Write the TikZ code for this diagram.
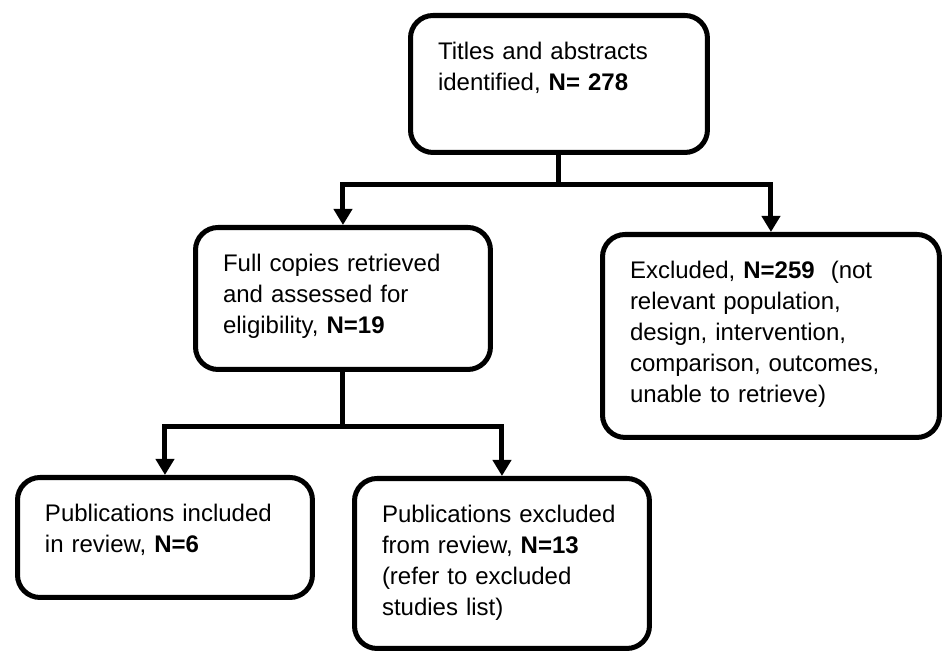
\documentclass[tikz,border=0pt]{standalone}
\usepackage{fontspec}
\setmainfont{Liberation Sans}
\usetikzlibrary{arrows.meta}
\tikzset{
  every picture/.style={line width=2.85pt},
  box/.style={draw, rounded corners=0.45cm, anchor=north west, align=left, inner xsep=0.55cm, inner ysep=0pt,
    text height=0.88cm, font=\fontsize{13.66pt}{17.64pt}\selectfont},
  arrow/.style={-{Triangle[length=0.32cm, width=0.36cm]}},
}

\begin{document}
\begin{tikzpicture}[x=0.02cm, y=-0.02cm]
  \useasboundingbox (0,0) rectangle (944,651);
  \node[box, text width=4.84cm, text depth=1.86cm] (T) at (408,13) {Titles and abstracts\\identified, \textbf{N= 278}};
  \node[box, text width=4.8cm, text depth=1.96cm] (F) at (193,225) {Full copies retrieved\\and assessed for\\eligibility, \textbf{N=19}};
  \node[box, text width=5.64cm, text depth=3.18cm] (E) at (600,232) {Excluded, \textbf{N=259}~~(not\\relevant population,\\design, intervention,\\comparison, outcomes,\\unable to retrieve)};
  \node[box, text width=4.8cm, text depth=1.52cm] (I) at (15,475) {Publications included\\in review, \textbf{N=6}};
  \node[box, text width=4.8cm, text depth=2.52cm] (X) at (352,476) {Publications excluded\\from review, \textbf{N=13}\\(refer to excluded\\studies list)};
  \coordinate (j1) at (T.south |- 0,185);
  \coordinate (j2) at (F.south |- 0,427);
  \draw (T.south) -- (j1);
  \draw[arrow] (j1) -| (F.north);
  \draw[arrow] (j1) -| (E.north);
  \draw (F.south) -- (j2);
  \draw[arrow] (j2) -| (I.north);
  \draw[arrow] (j2) -| (X.north);
\end{tikzpicture}
\end{document}
